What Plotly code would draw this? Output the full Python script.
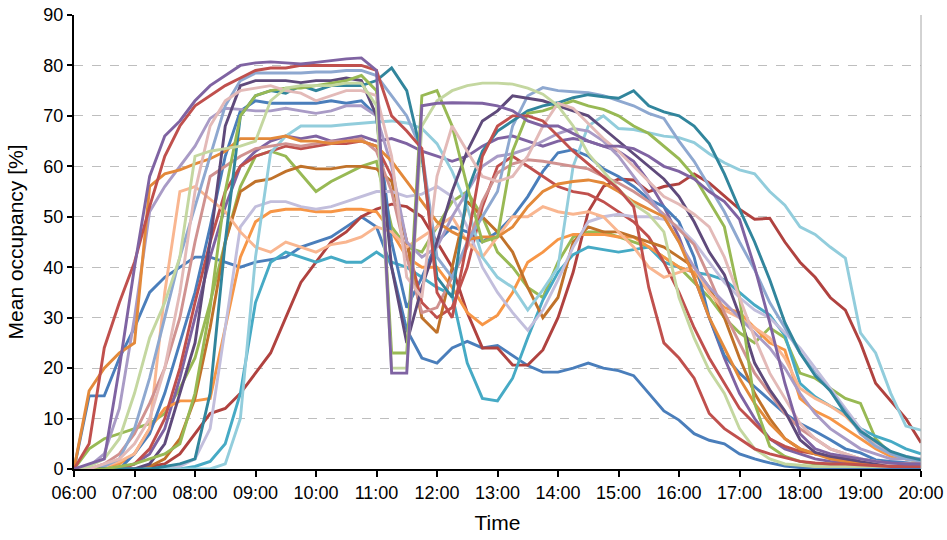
import plotly.graph_objects as go

# Time grid (15-minute sampling, hours from 06:00 to 20:00)
times = [6 + i * 0.25 for i in range(57)]
tick_hours = list(range(6, 21))
tick_labels = [f"{h:02d}:00" for h in tick_hours]

P1 = [0, 1, 2, 20, 40, 58, 66, 69, 73, 76, 78, 80, 80.5, 80.7, 80.5, 80.3,
      80.6, 81, 81.3, 81.5, 79, 19, 19, 72, 72.5, 72.6, 72.5, 72.5, 72, 71, 69, 68,
      68, 66.5, 65, 64, 64, 63.5, 62, 60, 59, 57.5, 55, 53, 49.5, 40, 29, 17,
      7, 4, 3, 2.5, 2, 1.5, 1.2, 1, 1]
R1 = [0, 5, 24, 33, 41, 52, 62, 68, 72, 74, 76, 77.5, 79, 79.5, 79.5, 80,
      80, 80, 80, 80, 79, 70, 67, 63.5, 35, 30, 45, 62, 68, 70, 70, 69,
      66, 63, 60.5, 58, 55.5, 52, 36, 25, 22, 18, 11, 8, 6, 4, 3, 2.2,
      1.5, 1.2, 1, 1, 0.8, 0.6, 0.5, 0.5, 0.5]
SB1 = [0, 0, 0.5, 2, 8, 18, 30, 42, 52, 62, 72, 77, 78.5, 78.5, 78.5, 78.5,
       78.7, 78.7, 79, 79, 78, 74, 70, 63, 42, 38, 45, 50, 55, 68, 74, 75.6,
       75, 74.8, 74.6, 74, 73, 72, 70.5, 69.5, 65, 61, 56, 51, 45, 39.5, 33, 28,
       23, 19, 15.5, 11.5, 7, 4.5, 3, 2, 1.5]
T1 = [0, 0, 0, 0, 0, 0, 0.5, 1, 2, 15, 45, 70, 74, 75, 74.5, 76,
      75, 76, 76, 76, 77, 79.5, 75, 62, 38, 34, 55, 63, 67, 69, 71, 72,
      72.6, 73.6, 74.2, 73.8, 73.5, 75, 72, 70.8, 70, 68, 64.5, 58.5, 51.5, 45, 37.5, 29,
      23, 18.5, 15.5, 11, 7.5, 5.5, 3.5, 2.5, 1.8]
G1 = [0, 0, 0, 0.5, 1, 2, 3, 5, 15, 32, 55, 70, 74, 75, 75.5, 75.5,
      76, 76.5, 77, 78, 75, 23, 23, 74, 75, 68, 56, 45, 46, 63, 70.5, 71,
      72, 73, 72, 71.3, 70, 68, 66.5, 64, 61.5, 58, 53, 48, 34, 13, 4.5, 2.5,
      1.5, 1, 1, 0.8, 0.5, 0.5, 0.5, 0.5, 0.5]
PG1 = [0, 0.5, 2, 6, 15, 26, 33, 42, 62, 63, 63.5, 64, 65, 73, 75.5, 76,
       76, 76, 76.5, 76.5, 72, 20, 20, 68, 73, 75, 76, 76.5, 76.5, 76.3, 75.5, 74.3,
       72, 68, 62.5, 59, 55.5, 52.5, 50.5, 47, 34, 26, 19.5, 15, 8, 4, 2, 1,
       0.8, 0.5, 0.5, 0.5, 0.5, 0.5, 0.5, 0.5, 0.5]
A1 = [0, 0, 0, 0, 0, 0, 0, 0, 0.5, 1.5, 5, 15, 33, 41, 43, 42,
      41, 42, 41, 41, 43, 41, 40, 38, 36, 34.5, 21, 14, 13.5, 18, 26, 33.5,
      39, 42.5, 44, 43.5, 43, 43.5, 44, 41, 40, 39, 38.5, 37.5, 35, 32.5, 30.5, 26.5,
      17, 14.3, 12.5, 11, 8, 6.5, 5.5, 4, 3]
B1 = [0, 14.5, 14.5, 22, 28, 35, 38, 40, 42, 42, 41, 40, 41, 41.5, 42, 44,
      45, 46, 48, 50, 48, 40, 27.6, 22, 21, 24, 25.3, 24, 24.5, 22.5, 20.5, 19.2,
      19.2, 20, 21, 20, 19.5, 18.5, 15, 11.5, 9.7, 7, 5.7, 5, 3, 2, 1.2, 0.6,
      0.3, 0, 0, 0, 0, 0, 0, 0, 0]
DR1 = [0, 0, 0, 0, 0, 0.5, 1, 3, 7, 11, 12, 15, 19, 23, 30, 37,
       41, 45, 47, 50, 51.5, 52.5, 52, 50, 45, 40, 31, 24, 24, 20.6, 20.6, 23.6,
       30, 39, 51, 56, 57.5, 57.3, 55, 56, 56.5, 58.5, 56.7, 54, 51.5, 49.5, 49.7, 45,
       41, 38, 34, 31.5, 25, 17, 13.5, 10, 5.2]
LA1 = [0, 0, 0, 0, 0, 0, 0, 0, 0, 0, 1, 10, 42, 62.7, 66, 68,
       68, 68, 68.3, 68.6, 68.8, 69, 68.6, 67.5, 64.5, 59, 52, 42, 38, 36, 31.5, 35.5,
       40, 60, 68, 70, 67.5, 67.3, 66.7, 66, 65.7, 64.7, 62.5, 60.7, 59.3, 58.5, 55, 52.3,
       48, 46.5, 44, 41.8, 27, 23, 15, 8.5, 7.7]
DP1 = [0, 0, 0, 0, 0, 1, 5, 15, 25, 45, 68, 76, 77, 77, 77, 76.6,
       77, 77, 77.5, 77, 70, 40, 25, 36, 45, 55, 63, 69, 71, 74, 73.5, 73,
       72, 71, 70, 67.5, 65, 62.5, 60, 57.5, 54, 49, 43, 38.5, 30.5, 21, 15.7, 11.5,
       5.8, 3.3, 2.5, 2, 1.5, 1.2, 1, 1, 1]
B2 = [0, 0, 0, 0, 3, 7, 15, 25, 35, 48, 62, 71, 73, 72.5, 72.5, 72.5,
      72.5, 73, 72.5, 73, 70, 45, 32, 38, 45, 48, 47, 45, 47, 50, 54, 59,
      62.7, 63.3, 62, 59.5, 58, 56, 53.5, 52, 49, 42, 30, 22.5, 19, 16.3, 13.7, 11,
      9, 7.5, 5.8, 4, 3.2, 1.8, 1.5, 1.2, 1]
R2 = [0, 0, 1, 3, 7, 13, 20, 30, 45, 58, 60, 62, 63.5, 64, 64.5, 64,
      64.5, 65, 65, 65.5, 63, 55, 42, 31, 32, 38, 44, 53, 58.7, 60.5, 61.3, 61,
      60.5, 60, 59.5, 58, 56.7, 55, 53, 50.5, 47.5, 44.5, 38, 31, 25, 19, 15, 11,
      8, 6, 4, 3, 2, 1.5, 1, 1, 1]
PP1 = [0, 0, 1, 2, 5, 10, 20, 35, 55, 68, 73, 75, 75.5, 76, 75, 74.5,
       73, 74, 75, 75, 74, 62, 38, 34, 58, 68, 63, 58, 57, 58, 62, 68,
       72.5, 71.5, 68.5, 65.5, 63, 60, 57, 54, 52.5, 50.5, 48, 42, 34, 26, 19, 14,
       9, 6, 4, 3, 2, 1.5, 1, 1, 1]
LV1 = [0, 0.5, 3, 12, 30, 51, 56, 60, 64, 69.5, 71.5, 71.3, 71, 71, 71.5, 71,
       70.5, 71, 72, 72, 70, 60, 45, 42, 44, 50, 55, 60, 62, 62.5, 63.5, 65,
       66.5, 67.5, 67, 65, 62, 58, 54, 50, 45, 40, 36, 33, 30, 27, 24, 20,
       15, 11, 8, 6, 4, 3, 2, 2, 2]
LL1 = [0, 0, 0, 0, 0, 0, 0, 0.5, 2, 8, 28, 48, 52, 53, 53, 52,
       51.5, 52, 53, 54, 55, 55, 54, 54.5, 56, 54, 48, 40, 35, 31, 27.5, 31.5,
       37.5, 44, 49, 50, 50.5, 50, 50, 49.5, 48, 45, 41, 37, 34, 31.5, 30, 27,
       24, 20, 16, 12, 8, 5, 3, 2.5, 2]
O2 = [0, 0, 0.5, 1, 3, 8, 12, 13.5, 13.5, 14, 28, 42, 49, 51, 51.5, 51.5,
      51, 51, 51.5, 51.5, 51, 47, 42, 40, 40, 36, 31, 28.6, 30.5, 35, 41, 43,
      45.5, 46.5, 46.5, 46.5, 46, 46, 44, 42, 40, 39, 35, 32, 31, 28, 25, 23.6,
      14, 11.5, 10, 8, 6, 4, 2.5, 2, 1.5]
O3 = [0, 0, 0, 0, 0, 0.5, 2, 6, 14, 28, 45, 55, 57, 57.5, 59, 60,
      59.5, 59.5, 60, 60, 59.5, 57, 45, 30, 27, 40, 53, 50, 47, 43, 36, 30,
      34, 45, 48, 47, 47, 46, 45, 44, 42, 40, 36, 30, 22, 15, 10, 6,
      4, 3, 2.5, 2, 1.5, 1, 1, 1, 1]
PE1 = [0, 0, 0.5, 1.5, 3, 8, 35, 55, 56, 53.5, 51, 47, 44, 43, 45, 44,
       43, 44.5, 45, 46, 48, 47, 44, 46, 48, 50, 45, 42, 46, 50, 50, 52,
       51, 50.5, 51, 50, 47, 44, 40, 38, 39, 40, 35, 31.5, 30, 28, 26, 22,
       16, 14, 12.5, 10.5, 7.5, 4.5, 3, 2, 1.5]
P2 = [0, 0, 0, 0, 1, 3, 8, 18, 30, 42, 52, 60, 63, 65, 66, 65.5,
      66, 65, 65.5, 66, 65, 65.5, 64.5, 63, 62, 61, 62, 64, 65.5, 66, 65, 64,
      65, 65.5, 65, 64, 63, 61, 57, 52, 46, 38, 30, 22, 15, 10, 6, 4,
      3, 2, 1.5, 1.2, 1, 1, 1, 1, 1]
G3 = [0, 4, 6, 7, 8, 9, 11, 16, 22, 33, 45, 56, 62, 63, 62, 58.5,
      55, 57, 58.5, 60, 61, 48, 44, 43, 48, 53, 55, 50, 43, 40, 36, 34,
      41, 46, 47, 47, 46, 45, 44, 42, 40, 37, 34, 30, 27, 25, 28, 26,
      19, 18, 16, 14, 13, 6, 3, 2, 1.5]
O1 = [0, 15.5, 20, 23, 25, 56, 58.5, 59.3, 60.5, 61.5, 63, 65.5, 65.5, 65.5, 66, 65,
      65, 64.5, 65, 65, 64, 61, 57, 53, 49, 47, 45.5, 46, 46, 48, 52, 55,
      56.5, 57, 57.3, 56.7, 55, 53, 51.5, 50, 45, 38, 30, 24, 18, 13, 9, 6,
      4, 3, 2, 1.5, 1, 0.8, 0.5, 0.5, 0.5]
R3 = [0, 0, 0, 0, 1, 4, 10, 20, 33, 45, 55, 60, 62, 63, 64, 63.5,
      64, 64.5, 64.5, 65, 64, 58, 45, 33, 30, 32, 40, 52, 60, 62, 60, 58,
      56, 55, 54.5, 53, 51, 49, 46, 41, 35, 28, 22, 17, 12, 9, 6, 4.5,
      3.5, 3, 2.5, 2, 1.5, 1, 1, 1, 1]

series = [
    (B1, "#4A7EBB"), (DR1, "#B0423F"), (G3, "#98B954"), (P2, "#7F63A2"),
    (A1, "#46AAC5"), (O2, "#F79646"), (B2, "#4A7EBB"), (R3, "#C0504D"),
    (O3, "#C0722A"), (LL1, "#C2BEDC"), (PE1, "#F9B690"), (LA1, "#92CDDC"),
    (R2, "#D09290"), (LV1, "#A99BC6"), (O1, "#E3893A"), (SB1, "#8EA8D0"),
    (DP1, "#5F4A7B"), (T1, "#31859C"), (G1, "#98B954"), (PP1, "#E3BAB8"),
    (PG1, "#C4D7A0"), (R1, "#C0504D"), (P1, "#7F63A2"),
]

fig = go.Figure()
for vals, col in series:
    assert len(vals) == len(times), (len(vals), col)
    fig.add_trace(go.Scatter(x=times, y=vals, mode="lines",
                             line=dict(color=col, width=2.9),
                             hoverinfo="skip", showlegend=False))

font_family = "Arial, Liberation Sans, Helvetica, sans-serif"
fig.update_layout(
    width=947, height=540,
    margin=dict(l=74, r=26, t=15, b=71, autoexpand=False),
    plot_bgcolor="white", paper_bgcolor="white",
    showlegend=False,
    font=dict(family=font_family, size=18, color="#000"),
)
fig.update_xaxes(
    range=[6, 20], tickmode="array", tickvals=tick_hours, ticktext=tick_labels,
    showgrid=False, zeroline=False, automargin=False,
    showline=True, linecolor="black", linewidth=2,
    ticks="outside", ticklen=6, tickwidth=1.5, tickcolor="black",
    tickfont=dict(size=18),
    title=dict(text="Time", font=dict(size=21), standoff=14),
)
fig.update_yaxes(
    range=[0, 90], dtick=10, tick0=0, automargin=False,
    showgrid=True, gridcolor="#BEBEBE", griddash="dash", gridwidth=1,
    zeroline=False,
    showline=True, linecolor="black", linewidth=2,
    ticks="outside", ticklen=5, tickwidth=1.5, tickcolor="black",
    tickfont=dict(size=18),
    title=dict(text="Mean occupancy [%]", font=dict(size=21), standoff=14),
)
fig.add_shape(type="line", xref="paper", yref="paper", x0=1, x1=1, y0=0, y1=1,
              line=dict(color="#A6A6A6", width=1))

fig.write_html("out.html")
